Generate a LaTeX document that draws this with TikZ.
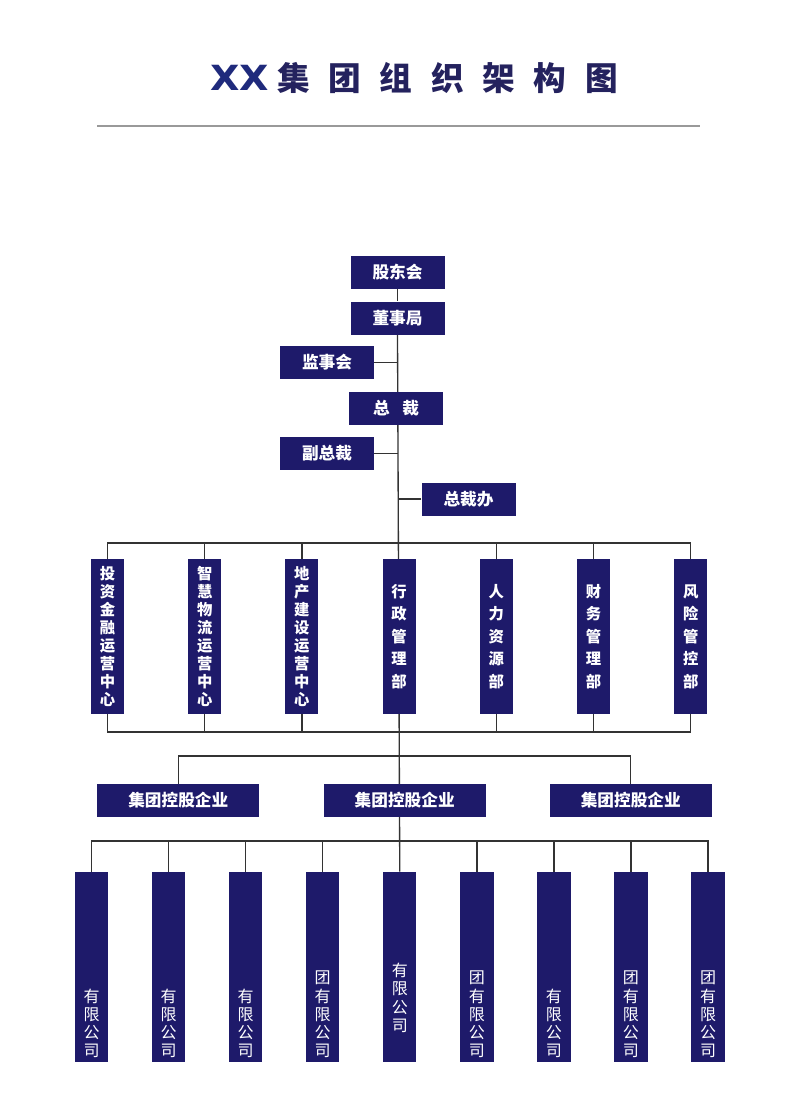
\documentclass[tikz,border=0pt]{standalone}
\usepackage{fontspec}
\setmainfont{Noto Sans CJK SC}
\newfontfamily\xxfont{DejaVu Sans}[FakeStretch=1.1]
\usetikzlibrary{positioning, backgrounds}

\definecolor{boxnavy}{HTML}{1E1A6A}
\definecolor{titlenavy}{HTML}{1F2A7C}
\definecolor{titleink}{HTML}{24225E}
\definecolor{linegray}{HTML}{333333}
\newcommand{\tgap}{\hspace{14pt}}

\begin{document}
\begin{tikzpicture}[
  x=0.75pt, y=-0.75pt,
  node distance = 9pt and 47.75pt,
  hbox/.style     = {rectangle, fill=boxnavy, text=white, minimum width=70.5pt,
                     minimum height=24.75pt, inner sep=0pt,
                     font=\fontsize{12.5pt}{15pt}\selectfont\bfseries},
  grpbox/.style   = {hbox, minimum width=121.5pt},
  deptbox/.style  = {rectangle, fill=boxnavy, text=white, minimum width=24.75pt,
                     minimum height=116.25pt, inner sep=0pt, align=center,
                     font=\fontsize{11.5pt}{13.5pt}\selectfont\bfseries},
  deptwide/.style = {deptbox, font=\fontsize{11.5pt}{16.9pt}\selectfont\bfseries},
  firmbox/.style  = {rectangle, fill=boxnavy, minimum width=25pt,
                     minimum height=142.5pt, inner sep=0pt},
  firmtext/.style = {text=white, align=center, inner sep=0pt,
                     font=\fontsize{12pt}{13.7pt}\selectfont},
  link/.style     = {draw=linegray, line width=1pt},
]
  \useasboundingbox (0,0) rectangle (796,1120);

  % title
  \node (title) at (414,78) {{\xxfont\fontsize{26pt}{28pt}\selectfont\bfseries\textcolor{titlenavy}{XX}}\hspace{6pt}{\fontsize{24.5pt}{28pt}\selectfont\bfseries\textcolor{titleink}{集\tgap 团\tgap 组\tgap 织\tgap 架\tgap 构\tgap 图}}};
  \coordinate (ruleL) at (97,126);
  \coordinate (ruleR) at (700,126);
  \draw[line width=1.3pt, black!40] (ruleL) -- (ruleR);

  % top management
  \node[hbox] (gdh) at (397.5,272.5) {股东会};
  \node[hbox, below=of gdh] (dsj) {董事局};
  \node[hbox] (jsh) at (327,362.5) {监事会};
  \node[hbox] (zc)  at (396,408.5) {总\hspace{0.75em}裁};
  \node[hbox] (fzc) at (327,453.5) {副总裁};
  \node[hbox] (zcb) at (468.5,499) {总裁办};

  % departments
  \node[deptbox] (tzjr) at (107.5,636.5) {投\\资\\金\\融\\运\\营\\中\\心};
  \node[deptbox, right=of tzjr]  (zhwl) {智\\慧\\物\\流\\运\\营\\中\\心};
  \node[deptbox, right=of zhwl]  (dcjs) {地\\产\\建\\设\\运\\营\\中\\心};
  \node[deptwide, right=of dcjs] (xzgl) {行\\政\\管\\理\\部};
  \node[deptwide, right=of xzgl] (rlzy) {人\\力\\资\\源\\部};
  \node[deptwide, right=of rlzy] (cwgl) {财\\务\\管\\理\\部};
  \node[deptwide, right=of cwgl] (fxgk) {风\\险\\管\\控\\部};

  % holding companies
  \node[grpbox] (kg1) at (178.3,800.5) {集团控股企业};
  \node[grpbox] (kg2) at (404.7,800.5) {集团控股企业};
  \node[grpbox] (kg3) at (630.8,800.5) {集团控股企业};

  % subsidiaries
  \node[firmbox] (gs1) at (91.5,967) {};
  \node[firmbox, right=32.4pt of gs1] (gs2) {};
  \node[firmbox, right=32.4pt of gs2] (gs3) {};
  \node[firmbox, right=32.4pt of gs3] (gs4) {};
  \node[firmbox, right=32.4pt of gs4] (gs5) {};
  \node[firmbox, right=32.4pt of gs5] (gs6) {};
  \node[firmbox, right=32.4pt of gs6] (gs7) {};
  \node[firmbox, right=32.4pt of gs7] (gs8) {};
  \node[firmbox, right=32.4pt of gs8] (gs9) {};
  \node[firmtext, above=3pt of gs1.south]  (gs1t) {有\\限\\公\\司};
  \node[firmtext, above=3pt of gs2.south]  (gs2t) {有\\限\\公\\司};
  \node[firmtext, above=3pt of gs3.south]  (gs3t) {有\\限\\公\\司};
  \node[firmtext, above=3pt of gs4.south]  (gs4t) {团\\有\\限\\公\\司};
  \node[firmtext, above=22pt of gs5.south] (gs5t) {有\\限\\公\\司};
  \node[firmtext, above=3pt of gs6.south]  (gs6t) {团\\有\\限\\公\\司};
  \node[firmtext, above=3pt of gs7.south]  (gs7t) {有\\限\\公\\司};
  \node[firmtext, above=3pt of gs8.south]  (gs8t) {团\\有\\限\\公\\司};
  \node[firmtext, above=3pt of gs9.south]  (gs9t) {团\\有\\限\\公\\司};

  \coordinate (deptbar)  at (397.5,543);
  \coordinate (deptfoot) at (397.5,732);
  \coordinate (grpbar)   at (397.5,756);
  \coordinate (firmbar)  at (397.5,841);

  \begin{scope}[on background layer]
    \draw[link] (gdh) -- (dsj);
    \draw[link] (dsj.south) -- (gs5.north);
    \draw[link] (jsh.east) -- (jsh.east -| dsj.south);
    \draw[link] (fzc.east) -- (fzc.east -| dsj.south);
    \draw[link] (zcb.west) -- (zcb.west -| dsj.south);

    \draw[link] (tzjr.north) |- (deptbar) -| (fxgk.north);
    \draw[link] (zhwl.north) -- (zhwl.north |- deptbar);
    \draw[link] (dcjs.north) -- (dcjs.north |- deptbar);
    \draw[link] (rlzy.north) -- (rlzy.north |- deptbar);
    \draw[link] (cwgl.north) -- (cwgl.north |- deptbar);

    \draw[link] (tzjr.south) |- (deptfoot) -| (fxgk.south);
    \draw[link] (zhwl.south) -- (zhwl.south |- deptfoot);
    \draw[link] (dcjs.south) -- (dcjs.south |- deptfoot);
    \draw[link] (rlzy.south) -- (rlzy.south |- deptfoot);
    \draw[link] (cwgl.south) -- (cwgl.south |- deptfoot);

    \draw[link] (kg1.north) |- (grpbar) -| (kg3.north);

    \draw[link] (gs1.north) |- (firmbar) -| (gs9.north);
    \draw[link] (gs2.north) -- (gs2.north |- firmbar);
    \draw[link] (gs3.north) -- (gs3.north |- firmbar);
    \draw[link] (gs4.north) -- (gs4.north |- firmbar);
    \draw[link] (gs6.north) -- (gs6.north |- firmbar);
    \draw[link] (gs7.north) -- (gs7.north |- firmbar);
    \draw[link] (gs8.north) -- (gs8.north |- firmbar);
  \end{scope}
\end{tikzpicture}
\end{document}
